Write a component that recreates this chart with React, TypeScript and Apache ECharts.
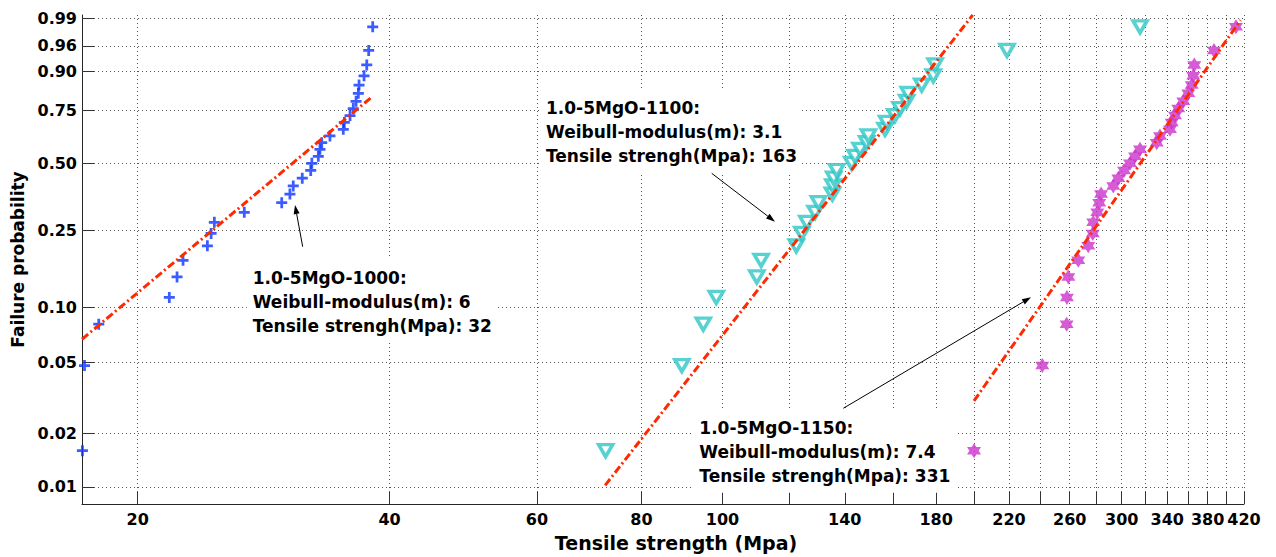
import { useEffect, useRef } from "react";
import * as echarts from "echarts";

// ---------- data ----------
const X_TICKS = [20, 40, 60, 80, 100, 120, 140, 160, 180, 200, 220, 240, 260, 280, 300, 320, 340, 360, 380, 400, 420];
const X_LABELED = [20, 40, 60, 80, 100, 140, 180, 220, 260, 300, 340, 380, 420];
const X_MIN = 17.16;
const X_MAX = 420;

const Y_TICKS = [0.01, 0.02, 0.05, 0.1, 0.25, 0.5, 0.75, 0.9, 0.96, 0.99];
const Y_TICK_LABELS = ["0.01", "0.02", "0.05", "0.10", "0.25", "0.50", "0.75", "0.90", "0.96", "0.99"];
const Y_MIN = 0.008;
const Y_MAX = 0.992;

// failure probability of each ranked specimen (same 31 ranks in all three sets)
const FAIL_PROB = [
  0.016, 0.048, 0.081, 0.113, 0.145, 0.177, 0.21, 0.242, 0.274, 0.306, 0.339,
  0.371, 0.403, 0.435, 0.468, 0.5, 0.532, 0.565, 0.597, 0.629, 0.661, 0.694,
  0.726, 0.758, 0.79, 0.823, 0.855, 0.887, 0.919, 0.952, 0.984,
];

const STRENGTH_1000 = [
  17.18, 17.28, 17.97, 21.82, 22.29, 22.66, 24.23, 24.48, 24.7, 26.82, 29.73,
  30.41, 30.69, 31.46, 32.2, 32.3, 32.88, 33.03, 33.19, 33.95, 35.22, 35.32,
  35.88, 36.2, 36.48, 36.71, 36.78, 37.29, 37.57, 37.77, 38.19,
];
const STRENGTH_1100 = [
  72.5, 89.4, 94.85, 98.3, 109.9, 111.2, 122.5, 124.4, 126.1, 129.0, 130.2,
  135.3, 135.5, 135.8, 136.9, 142.7, 144.0, 146.0, 148.7, 149.4, 156.4, 157.1,
  160.7, 163.0, 166.0, 166.7, 173.0, 178.6, 179.5, 218.8, 315.5,
];
const STRENGTH_1150 = [
  199.8, 241.1, 257.8, 258.0, 259.0, 266.2, 273.6, 277.0, 277.4, 280.5, 282.0,
  283.4, 293.1, 297.2, 301.9, 306.9, 311.2, 315.5, 330.3, 333.3, 342.6, 344.2,
  347.4, 350.5, 355.4, 360.3, 363.7, 365.3, 366.3, 386.7, 410.8,
];

// fitted Weibull lines: [strength, failure probability] end points
const FIT_1000 = [[17.16, 0.067], [38.0, 0.805]];
const FIT_1100 = [[72.4, 0.0102], [199.1, 0.992]];
const FIT_1150 = [[199.8, 0.0305], [416, 0.989]];

const ANN_1000 = ["1.0-5MgO-1000:", "Weibull-modulus(m): 6", "Tensile strengh(Mpa): 32"];
const ANN_1100 = ["1.0-5MgO-1100:", "Weibull-modulus(m): 3.1", "Tensile strengh(Mpa): 163"];
const ANN_1150 = ["1.0-5MgO-1150:", "Weibull-modulus(m): 7.4", "Tensile strengh(Mpa): 331"];

// ---------- helpers ----------
const lx = (v: number) => Math.log(v);
const wb = (f: number) => Math.log(-Math.log(1 - f));

const FONT = '"DejaVu Sans", sans-serif';
const PLUS = "path://M4.5,0H7.5V4.5H12V7.5H7.5V12H4.5V7.5H0V4.5H4.5Z";
const HEXAGRAM =
  "path://M0,-10L2.887,-5L8.66,-5L5.774,0L8.66,5L2.887,5L0,10L-2.887,5L-8.66,5L-5.774,0L-8.66,-5L-2.887,-5Z";

function arrow(x1: number, y1: number, x2: number, y2: number) {
  const dx = x2 - x1;
  const dy = y2 - y1;
  const len = Math.hypot(dx, dy);
  const ux = dx / len;
  const uy = dy / len;
  const L = 9;
  const W = 3;
  const bx = x2 - ux * L;
  const by = y2 - uy * L;
  return [
    { type: "line", z: 5, shape: { x1, y1, x2: bx, y2: by }, style: { stroke: "#000", lineWidth: 1 } },
    {
      type: "polygon",
      z: 5,
      shape: { points: [[x2, y2], [bx - uy * W, by + ux * W], [bx + uy * W, by - ux * W]] },
      style: { fill: "#000" },
    },
  ];
}

function box(x: number, y: number, lines: string[]) {
  return {
    type: "text",
    x,
    y,
    z: 1,
    style: {
      text: lines.join("\n"),
      font: `bold 17px ${FONT}`,
      fill: "#000",
      backgroundColor: "#fff",
      padding: [7, 5, 5, 6],
      lineHeight: 24,
    },
  };
}

export default function App() {
  const ref = useRef<HTMLDivElement>(null);

  useEffect(() => {
    if (!ref.current) return;
    const chart = echarts.init(ref.current, null, { renderer: "svg" });

    const pts = (arr: number[]) => arr.map((x, i) => [lx(x), wb(FAIL_PROB[i])]);
    const fit = (arr: number[][]) => arr.map(([x, f]) => [lx(x), wb(f)]);

    const fitLine = (name: string, data: number[][]) => ({
      name,
      type: "line",
      data: fit(data),
      showSymbol: false,
      symbol: "none",
      z: 4,
      lineStyle: { color: "#ff2a00", width: 3, type: [8, 3, 2, 3] },
      silent: true,
    });

    chart.setOption({
      animation: false,
      backgroundColor: "#fff",
      grid: { left: 82, right: 32, top: 15, bottom: 52, containLabel: false },
      xAxis: {
        type: "value",
        min: lx(X_MIN),
        max: lx(X_MAX),
        name: "Tensile strength (Mpa)",
        nameLocation: "middle",
        nameGap: 29,
        nameTextStyle: {
          fontFamily: FONT,
          fontWeight: "bold",
          fontSize: 19,
          color: "#000",
          padding: [0, 0, 0, 26],
        },
        axisLine: { show: true, onZero: false, lineStyle: { color: "#262626", width: 1 } },
        axisTick: {
          show: true,
          inside: true,
          length: 12,
          customValues: X_TICKS.map(lx),
          lineStyle: { color: "#333", width: 1 },
        },
        axisLabel: {
          show: true,
          margin: 7,
          customValues: X_LABELED.map(lx),
          formatter: (v: number) => String(Math.round(Math.exp(v))),
          fontFamily: FONT,
          fontWeight: "bold",
          fontSize: 16,
          color: "#000",
        },
        splitLine: { show: true, lineStyle: { color: "#555", width: 1, type: [1, 3] } },
      },
      yAxis: {
        type: "value",
        min: wb(Y_MIN),
        max: wb(Y_MAX),
        name: "Failure probability",
        nameLocation: "middle",
        nameRotate: 90,
        nameGap: 48,
        nameTextStyle: { fontFamily: FONT, fontWeight: "bold", fontSize: 17, color: "#000" },
        axisLine: { show: true, onZero: false, lineStyle: { color: "#262626", width: 1 } },
        axisTick: {
          show: true,
          inside: true,
          length: 12,
          customValues: Y_TICKS.map(wb),
          lineStyle: { color: "#333", width: 1 },
        },
        axisLabel: {
          show: true,
          margin: 5,
          customValues: Y_TICKS.map(wb),
          formatter: (v: number) => {
            let best = 0;
            Y_TICKS.forEach((p, i) => {
              if (Math.abs(wb(p) - v) < Math.abs(wb(Y_TICKS[best]) - v)) best = i;
            });
            return Y_TICK_LABELS[best];
          },
          fontFamily: FONT,
          fontWeight: "bold",
          fontSize: 16,
          color: "#000",
        },
        splitLine: { show: true, lineStyle: { color: "#555", width: 1, type: [1, 3] } },
      },
      series: [
        {
          name: "1.0-5MgO-1000",
          type: "scatter",
          data: pts(STRENGTH_1000),
          symbol: PLUS,
          symbolSize: 11,
          itemStyle: { color: "#0a33ff" },
          z: 3,
        },
        {
          name: "1.0-5MgO-1100",
          type: "scatter",
          data: pts(STRENGTH_1100),
          symbol: "triangle",
          symbolRotate: 180,
          symbolSize: [14, 12],
          itemStyle: { color: "#ffffff", borderColor: "#2ec6c6", borderWidth: 3.5 },
          z: 3,
        },
        {
          name: "1.0-5MgO-1150",
          type: "scatter",
          data: pts(STRENGTH_1150),
          symbol: HEXAGRAM,
          symbolSize: [14, 15],
          itemStyle: { color: "#cc33cc" },
          z: 3,
        },
        fitLine("fit-1000", FIT_1000),
        fitLine("fit-1100", FIT_1100),
        fitLine("fit-1150", FIT_1150),
      ],
      graphic: [
        box(246.7, 258.7, ANN_1000),
        box(540, 88.7, ANN_1100),
        box(693.3, 408.7, ANN_1150),
        ...arrow(302.7, 246.7, 295, 205),
        ...arrow(711.7, 173.3, 775, 221.7),
        ...arrow(843.3, 408.3, 1031, 297.3),
      ],
    });

    return () => chart.dispose();
  }, []);

  return (
    <div
      ref={ref}
      style={{ position: "absolute", left: 0, top: 0, width: 1276, height: 557, background: "#fff" }}
    />
  );
}
